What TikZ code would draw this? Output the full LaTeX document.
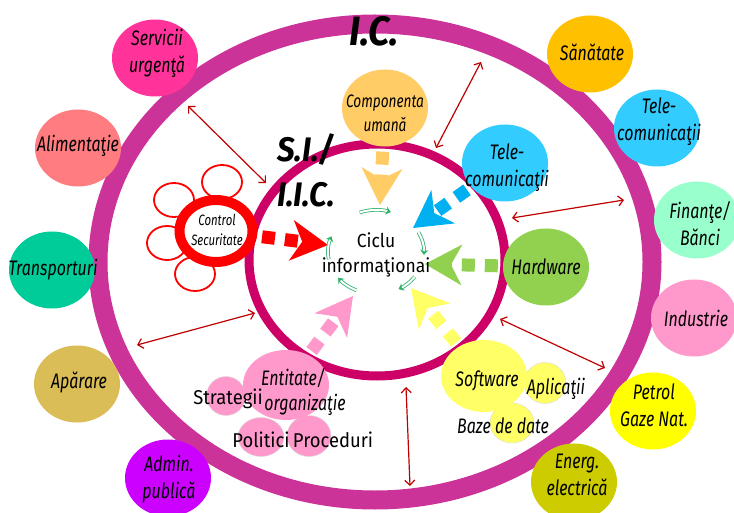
\documentclass[tikz,border=0pt]{standalone}
\usepackage{fontspec}
\setmainfont{Fira Sans}[FakeStretch=0.92]
\newfontfamily\labelfont{Fira Sans}[FakeStretch=0.76]
\usetikzlibrary{shapes.geometric,arrows.meta}

\definecolor{icring}{HTML}{CC3399}
\definecolor{siring}{HTML}{CC0066}
\definecolor{linkred}{HTML}{C00000}
\definecolor{cycgreen}{HTML}{2EB36B}
\definecolor{cServ}{HTML}{FF3399}
\definecolor{cAlim}{HTML}{FF7C80}
\definecolor{cTrans}{HTML}{00CC99}
\definecolor{cApar}{HTML}{DBBD58}
\definecolor{cAdmin}{HTML}{CC00FF}
\definecolor{cSan}{HTML}{FFC000}
\definecolor{cTele}{HTML}{33CCFF}
\definecolor{cFin}{HTML}{99FFCC}
\definecolor{cInd}{HTML}{FF99CC}
\definecolor{cPetrol}{HTML}{FFFF00}
\definecolor{cEnerg}{HTML}{CCCC00}
\definecolor{cHum}{HTML}{FFCC66}
\definecolor{cBlue}{HTML}{00B0F0}
\definecolor{cHard}{HTML}{92D050}
\definecolor{cSoft}{HTML}{FFFF66}

\begin{document}
\begin{tikzpicture}[x=1pt,y=-1pt,
    bubble/.style={ellipse,inner sep=0pt,minimum width=86pt,minimum height=77pt},
    minib/.style={ellipse,inner sep=0pt,draw=black!15,line width=0.4pt},
    petal/.style={ellipse,draw=red,line width=1.8pt,fill=white,minimum width=40pt,minimum height=34pt},
    lbl/.style={font=\labelfont\itshape\fontsize{21}{27}\selectfont,align=center,inner sep=0pt},
    up/.style={font=\fontsize{20}{25}\selectfont,align=center,inner sep=0pt},
    link/.style={draw=linkred,line width=1.2pt,{Straight Barb[length=5pt,width=10pt]}-{Straight Barb[length=5pt,width=10pt]}},
    flow/.style={line width=13pt,dash pattern=on 13pt off 10pt,shorten <=5pt,
      -{Stealth[length=37pt,width=41pt,inset=11pt,line width=0pt]}},
    cyc/.style={draw=cycgreen,double=white,double distance=2pt,line width=0.8pt,-{Stealth[length=5pt,width=8pt]}}]

  \fill[white] (0,0) rectangle (734,513);
  \useasboundingbox (0,0) rectangle (734,513);

  % the two rings
  \draw[icring,line width=19pt] (375,262) ellipse [x radius=277,y radius=238];
  \draw[siring,line width=9pt] (377,260) ellipse [x radius=128,y radius=116];

  % links between the rings
  \coordinate (l1a) at (266,183); \coordinate (l1b) at (188,106);
  \coordinate (l2a) at (436,148); \coordinate (l2b) at (481,62);
  \coordinate (l3a) at (512,218); \coordinate (l3b) at (624,200);
  \coordinate (l4a) at (500,319); \coordinate (l4b) at (605,368);
  \coordinate (l5a) at (406,387); \coordinate (l5b) at (410,486);
  \coordinate (l6a) at (255,313); \coordinate (l6b) at (137,345);
  \draw[link] (l1a) -- (l1b);
  \draw[link] (l2a) -- (l2b);
  \draw[link] (l3a) -- (l3b);
  \draw[link] (l4a) -- (l4b);
  \draw[link] (l5a) -- (l5b);
  \draw[link] (l6a) -- (l6b);

  % outer bubbles
  \node[bubble,fill=cServ] (serv) at (155,58) {};
  \node[bubble,fill=cAlim] (alim) at (78,148) {};
  \node[bubble,fill=cTrans] (trans) at (52,270) {};
  \node[bubble,fill=cApar] (apar) at (77,384) {};
  \node[bubble,fill=cAdmin] (admin) at (168,478) {};
  \node[bubble,fill=cSan] (san) at (590,54) {};
  \node[bubble,fill=cTele] (teleo) at (657,128) {};
  \node[bubble,fill=cFin] (fin) at (697,220) {};
  \node[bubble,fill=cInd] (ind) at (694,318) {};
  \node[bubble,fill=cPetrol] (petrol) at (653,411) {};
  \node[bubble,fill=cEnerg] (energ) at (574,482) {};

  % control / flower
  \node[petal] (p1) at (222,182) {};
  \node[petal] (p2) at (174,200) {};
  \node[petal] (p3) at (167,243) {};
  \node[petal] (p4) at (195,274) {};
  \node[ellipse,draw=red,line width=10pt,fill=white,inner sep=0pt,
    minimum width=73pt,minimum height=62pt] (ctrl) at (216,231) {};

  % inner bubbles
  \node[bubble,fill=cHum] (hum) at (385,108) {};
  \node[bubble,fill=cTele] (telei) at (505,163) {};
  \node[bubble,fill=cHard] (hard) at (546,267) {};
  \node[minib,fill=cSoft,minimum width=42pt,minimum height=41pt] (apl) at (545,383) {};
  \node[minib,fill=cSoft,minimum width=44pt,minimum height=40pt] (baze) at (512,423) {};
  \node[bubble,fill=cSoft,minimum height=72pt] (soft) at (484,376) {};
  \node[minib,fill=cInd,minimum width=39pt,minimum height=39pt] (strat) at (226,396) {};
  \node[minib,fill=cInd,minimum width=46pt,minimum height=39pt] (polit) at (261,437) {};
  \node[minib,fill=cInd,minimum width=44pt,minimum height=41pt] (proc) at (309,436) {};
  \node[bubble,fill=cInd,minimum height=70pt] (ent) at (286,385) {};

  % flows into the cycle
  \coordinate (cyc) at (376,252);
  \coordinate (humtip) at (380,205);
  \coordinate (teletip) at (413,228);
  \coordinate (hardtip) at (425,264);
  \coordinate (softtip) at (411,288);
  \coordinate (enttip) at (353,296);
  \coordinate (ctrltip) at (328,245);
  \draw[flow,cHum] (hum) -- (humtip);
  \draw[flow,cBlue] (telei) -- (teletip);
  \draw[flow,cHard] (hard) -- (hardtip);
  \draw[flow,cSoft] (soft) -- (softtip);
  \draw[flow,cInd] (ent) -- (enttip);
  \draw[flow,red] (ctrl) -- (ctrltip);

  % the cycle
  \draw[cyc] (cyc) ++(-110:48 and 42) arc[start angle=-110,end angle=-72,x radius=48,y radius=42];
  \draw[cyc] (cyc) ++(-28:48 and 42) arc[start angle=-28,end angle=4,x radius=48,y radius=42];
  \draw[cyc] (cyc) ++(36:48 and 42) arc[start angle=36,end angle=62,x radius=48,y radius=42];
  \draw[cyc] (cyc) ++(114:48 and 42) arc[start angle=114,end angle=142,x radius=48,y radius=42];
  \draw[cyc] (cyc) ++(170:48 and 42) arc[start angle=170,end angle=202,x radius=48,y radius=42];

  % texts
  \node[font=\bfseries\itshape\fontsize{41}{41}\selectfont] (ic) at (374,31) {I.C.};
  \node[font=\bfseries\itshape\fontsize{34}{45}\selectfont,align=center] (si) at (306,170) {S.I./\\I.I.C.};
  \node[up,font=\fontsize{19}{25}\selectfont] (ciclu) at (376,255) {Ciclu\\informaţionai};
  \node[lbl] (serv-t) at (157,53) {Servicii\\urgenţă};
  \node[lbl] (alim-t) at (78,146) {Alimentaţie};
  \node[lbl] (trans-t) at (53,270) {Transporturi};
  \node[lbl] (apar-t) at (79,382) {Apărare};
  \node[lbl] (admin-t) at (169,479) {Admin.\\publică};
  \node[lbl] (san-t) at (592,52) {Sănătate};
  \node[lbl] (teleo-t) at (659,122) {Tele-\\comunicaţii};
  \node[lbl] (fin-t) at (700,224) {Finanţe/\\Bănci};
  \node[lbl] (ind-t) at (696,318) {Industrie};
  \node[lbl] (petrol-t) at (654,405) {Petrol\\Gaze Nat.};
  \node[lbl] (energ-t) at (577,475) {Energ.\\electrică};
  \node[lbl,font=\labelfont\itshape\fontsize{18}{24}\selectfont] (hum-t) at (385,113) {Componenta\\umană};
  \node[lbl] (telei-t) at (507,168) {Tele-\\comunicaţii};
  \node[lbl] (hard-t) at (546,267) {Hardware};
  \node[lbl] (soft-t) at (487,381) {Software};
  \node[lbl] (apl-t) at (556,389) {Aplicaţii};
  \node[lbl] (baze-t) at (503,426) {Baze de date};
  \node[lbl] (ent-t1) at (293,378) {Entitate/};
  \node[lbl] (ent-t2) at (305,405) {organizaţie};
  \node[up] (strat-t) at (228,399) {Strategii};
  \node[up] (polit-t) at (261,440) {Politici};
  \node[up] (proc-t) at (333,440) {Proceduri};
  \node[lbl,font=\labelfont\itshape\fontsize{15}{20}\selectfont] (ctrl-t) at (217,230) {Control\\Securitate};
\end{tikzpicture}
\end{document}
